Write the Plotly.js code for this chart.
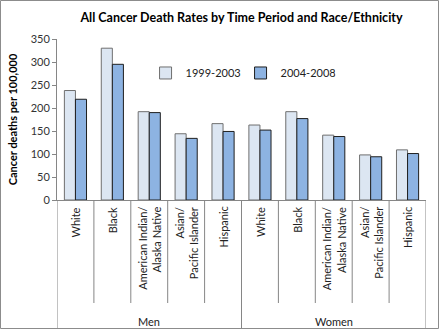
<!DOCTYPE html>
<html><head><meta charset="utf-8">
<script src="https://cdn.plot.ly/plotly-3.0.1.min.js"></script>
<style>html,body{margin:0;padding:0;background:#fff}#c{width:441px;height:330px}</style>
</head><body><div id="c"></div>
<script>
const groups = ["Men","Men","Men","Men","Men","Women","Women","Women","Women","Women"];
const races = ["White","Black","American Indian/<br>Alaska Native","Asian/<br>Pacific Islander","Hispanic",
               "White","Black","American Indian/<br>Alaska Native","Asian/<br>Pacific Islander","Hispanic"];
const rates1999 = [238, 330, 192, 144, 166, 163, 192, 141, 98, 109];
const rates2004 = [219, 295, 190, 134, 149, 152, 177, 138, 94, 101];
const seriesNames = ["1999-2003","2004-2008"];
const groupNames = ["Men","Women"];

const cats = races.map((r,i)=>groups[i]+" "+i);
const F = "Lato, 'Open Sans', sans-serif";
const GRAY = "#868686";

const traces = [
  {type:"bar", name:seriesNames[0], x:cats, y:rates1999,
   marker:{color:"#DCE6F2", line:{color:"#6F6F6F", width:1}}},
  {type:"bar", name:seriesNames[1], x:cats, y:rates2004,
   marker:{color:"#8DB3E2", line:{color:"#1F1F1F", width:1}}}
];

const plotW = 369, plotH = 161;
const shapes = [];
const annotations = [];
for (let i=0;i<=cats.length;i++){
  const xi = i-0.5;
  const full = (i===0 || i===cats.length || groups[i]!==groups[i-1]);
  shapes.push({type:"line", xref:"x", yref:"paper", x0:xi, x1:xi, y0:0,
    y1: full ? -128.5/plotH : -103/plotH, line:{color:GRAY, width:1}});
}
shapes.push({type:"rect", xref:"paper", yref:"paper",
  x0:(0.5-57)/plotW, x1:(438.5-57)/plotW, y0:-128.5/plotH, y1:199.5/plotH,
  line:{color:"#8C8C8C", width:1}});
races.forEach((r,i)=>{
  annotations.push({xref:"x", yref:"paper", x:i, y:0, yshift:-5, text:r,
    textangle:-90, showarrow:false, xanchor:"center", yanchor:"top", align:"right",
    font:{family:F, size:11, color:"#222"}});
});
groupNames.forEach(g=>{
  const idx = groups.map((v,i)=>v===g?i:-1).filter(i=>i>=0);
  const mid = (idx[0]+idx[idx.length-1])/2;
  annotations.push({xref:"x", yref:"paper", x:mid, y:-121/plotH, text:g, showarrow:false,
    xanchor:"center", yanchor:"middle", font:{family:F, size:11, color:"#222"}});
});

const layout = {
  width:441, height:330,
  margin:{l:57, r:15, t:39, b:130, pad:0},
  paper_bgcolor:"#fff", plot_bgcolor:"#fff",
  title:{text:"<b>All Cancer Death Rates by Time Period and Race/Ethnicity</b>",
    font:{family:F, size:12.5, color:"#000"}, x:0.5, xref:"paper", xanchor:"center", y:0.948, yanchor:"middle"},
  bargap:0.4, bargroupgap:0,
  showlegend:true,
  legend:{orientation:"h", x:0.24, y:0.789, xanchor:"left", yanchor:"middle",
    font:{family:F, size:11, color:"#222"}, entrywidth:50, entrywidthmode:"pixels",
    itemwidth:30, bgcolor:"rgba(0,0,0,0)"},
  xaxis:{type:"category", range:[-0.5, cats.length-0.5], showticklabels:false, ticks:"",
    showline:true, linecolor:GRAY, linewidth:1, showgrid:false, zeroline:false, fixedrange:true},
  yaxis:{range:[0,350], dtick:50, tick0:0, ticks:"outside", ticklen:4, tickcolor:GRAY,
    showline:true, linecolor:GRAY, linewidth:1, showgrid:false, zeroline:false,
    tickfont:{family:F, size:11, color:"#333"},
    title:{text:"<b>Cancer deaths per 100,000</b>", font:{family:F, size:11, color:"#000"}, standoff:10}},
  shapes:shapes, annotations:annotations
};
Plotly.newPlot("c", traces, layout, {displayModeBar:false, staticPlot:true});
</script></body></html>
